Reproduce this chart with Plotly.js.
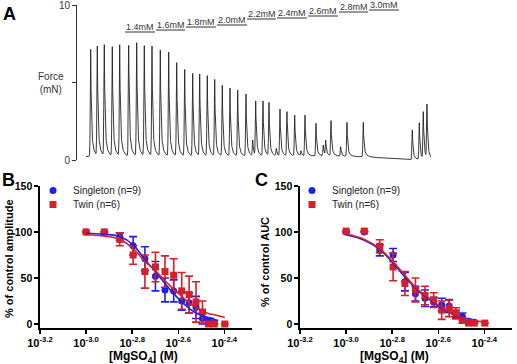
<!DOCTYPE html>
<html><head><meta charset="utf-8">
<script src="https://cdn.plot.ly/plotly-3.0.1.min.js"></script>
<style>html,body{margin:0;padding:0;background:#fff}#chart{width:517px;height:364px}</style>
</head><body><div id="chart"></div>
<script>
// ---------- Panel A: force trace (peaks) ----------
const peakTimes  = [13.7,20.3,27.3,35.3,42.7,51.7,59.7,67.3,75.0,83.3,91.7,99.7,107.7,115.7,122.7,130.3,137.7,145.3,153.0,160.7,169.0,175.7,178.7,186.0,192.0,199.3,203.0,210.0,217.7,224.0,228.0,239.0,246.3,248.7,254.0,263.7,270.0,286.3,335.3,342.3,346.3,350.0];
const peakForces = [7.14,7.35,7.44,7.31,7.44,7.40,7.57,7.38,7.35,7.10,6.97,6.28,5.85,5.59,5.55,5.44,5.20,4.82,4.65,4.52,4.26,1.29,3.81,3.81,3.72,0.75,3.29,3.12,2.90,0.60,2.90,2.37,0.97,1.29,2.54,0.86,2.43,2.43,1.94,2.41,3.12,3.61];
const baseTimes  = [9,150,250,290,330,354];
const baseForces = [0.22,0.22,0.25,0.2,0.02,0.0];
const mgLabels = ['1.4mM','1.6mM','1.8mM','2.0mM','2.2mM','2.4mM','2.6mM','2.8mM','3.0mM'];
const mgStart  = [48,79,109,140,170,200,231,262,292];
const mgEnd    = [78,108,139,170,199,230,261,291,322];
const forceTicks = [0,5,10];
const forceTickText = ['0','','10'];

// ---------- Panels B and C ----------
const concMM = [1.0,1.2,1.4,1.6,1.8,2.0,2.2,2.4,2.6,2.8,3.0,3.2,3.4,3.6,4.0];
// B: % of control amplitude
const ampSingleton    = [100,100,95,85,71,52,37,36,25,23,18,6,3,2];
const ampSingletonErr = [0,0,4,10,13,16,13,12,10,11,12,6,3,2];
const ampTwin         = [100,100,92,75,57,62,57,53,36,32,24,13,0,0,0];
const ampTwinErr      = [0,0,7,10,18,16,17,18,20,20,22,12,0,0,0];
const ampFitSingleton = [98.6,97.5,95,86,70,57,44,33,24,17,12,9,7,6];
const ampFitTwin      = [97,95.5,92,82,68,58,47,38,30,23,18,14,11.5,10,7];
// C: % of control AUC
const aucSingleton    = [100,100,80,75,46,33,28,24,21,19.5,11,8,3,2];
const aucSingletonErr = [0,0,6,7,10,8,9,5,7,7,4,4,2,1];
const aucTwin         = [101,101,84.5,62,44,37,31,26,15,17,11.6,4,1,1,1];
const aucTwinErr      = [0,0,7,15,13,13,10,8,10,9,6,3,0,0,0];
const aucFitSingleton = [97,91,81,66,51,39,30,23,17,12.5,8.5,6,4.5,3.5];
const aucFitTwin      = [98,92,82,67.5,53,40,31,24,18,13,9,6,4.5,3.5,2.5];

const tickExp = ['-3.2','-3.0','-2.8','-2.6','-2.4'];

// ---------- build ----------
const W = 517, H = 364;
const BLUE = '#1f1fe6', RED = '#d4202a';
function interp(t, xs, ys){
  if (t <= xs[0]) return ys[0];
  for (let i=1;i<xs.length;i++){ if (t <= xs[i]) { const f=(t-xs[i-1])/(xs[i]-xs[i-1]); return ys[i-1]+f*(ys[i]-ys[i-1]); } }
  return ys[ys.length-1];
}
function kernel(dt){
  if (dt < -2.0) return 0;
  if (dt < 0) return Math.exp(-(dt*dt)/(2*0.4*0.4));
  return 0.78*Math.exp(-dt/0.65) + 0.22*Math.exp(-dt/2.4);
}
const amps = [];
for (let i=0;i<peakTimes.length;i++){
  let lvl = interp(peakTimes[i], baseTimes, baseForces);
  for (let j=0;j<i;j++) lvl += amps[j]*kernel(peakTimes[i]-peakTimes[j]);
  amps.push(Math.max(0, peakForces[i]-lvl));
}
const tx = [], fy = [];
for (let t=9; t<=354.001; t+=0.1){
  let v = interp(t, baseTimes, baseForces);
  for (let j=0;j<peakTimes.length;j++){ const d=t-peakTimes[j]; if (d>-2.0 && d<40) v += amps[j]*kernel(d); }
  tx.push(t); fy.push(v);
}

const M = v => v/1000;
const concM = concMM.map(M);
function pts(vals, errs, color, symbol, xa, ya, name, legend){
  return {type:'scatter', mode:'markers', x:concM.slice(0, vals.length), y:vals, xaxis:xa, yaxis:ya,
    name:name, legend:legend,
    marker:{color:color, symbol:symbol, size:7},
    error_y:{type:'data', array:errs, visible:true, color:color, thickness:1.6, width:4}};
}
function fit(vals, color, xa, ya){
  return {type:'scatter', mode:'lines', x:concM.slice(0, vals.length), y:vals, xaxis:xa, yaxis:ya,
    showlegend:false, hoverinfo:'skip', line:{color:color, width:1.6, shape:'spline', smoothing:1}};
}

const traces = [
  {type:'scatter', mode:'lines', x:tx, y:fy, xaxis:'x', yaxis:'y', showlegend:false, line:{color:'#222', width:0.9}},
  pts(ampSingleton, ampSingletonErr, BLUE, 'circle', 'x2','y2','Singleton (n=9)','legend'),
  pts(ampTwin, ampTwinErr, RED, 'square', 'x2','y2','Twin (n=6)','legend2'),
  fit(ampFitSingleton, BLUE, 'x2','y2'),
  fit(ampFitTwin, RED, 'x2','y2'),
  pts(aucSingleton, aucSingletonErr, BLUE, 'circle', 'x3','y3','Singleton (n=9)','legend3'),
  pts(aucTwin, aucTwinErr, RED, 'square', 'x3','y3','Twin (n=6)','legend4'),
  fit(aucFitSingleton, BLUE, 'x3','y3'),
  fit(aucFitTwin, RED, 'x3','y3'),
];

const FONT = 'Liberation Sans, Arial, sans-serif';
const tickvals = tickExp.map(e => Math.pow(10, parseFloat(e)));
const ticktext = tickExp.map(e => '10<sup>' + e + '</sup>');
function xAx(l, r, anchor){
  return {domain:[l/W, r/W], anchor:anchor, type:'log', range:[-3.2,-2.28], showline:true, linecolor:'#000', linewidth:1.6,
    ticks:'outside', ticklen:4, tickwidth:1.5, tickcolor:'#000', tickvals:tickvals, ticktext:ticktext,
    tickfont:{family:FONT, size:11, color:'#000', weight:'bold'}, showgrid:false, zeroline:false, fixedrange:true};
}
function yAx(anchor){
  return {domain:[1-328/H, 1-186/H], anchor:anchor, range:[-4.35,150], showline:true, linecolor:'#000', linewidth:1.6,
    ticks:'outside', ticklen:4, tickwidth:1.5, tickcolor:'#000', tickvals:[0,50,100,150], ticklabeloverflow:'allow',
    tickfont:{family:FONT, size:10.5, color:'#000', weight:'bold'}, showgrid:false, zeroline:false, fixedrange:true};
}
function leg(xpx, ypx){
  return {x:xpx/W, y:1-ypx/H, xanchor:'left', yanchor:'top', bgcolor:'rgba(0,0,0,0)', borderwidth:0,
    font:{family:FONT, size:10, color:'#222'}, itemwidth:30};
}
function ann(text, xpx, ypx, size, extra){
  return Object.assign({text:text, x:xpx/W, y:1-ypx/H, xref:'paper', yref:'paper', xanchor:'center', yanchor:'middle',
    showarrow:false, font:{family:FONT, size:size, color:'#000'}}, extra||{});
}

const annotations = [
  ann('<b>A</b>', 9, 14, 18),
  ann('<b>B</b>', 8, 180, 18),
  ann('<b>C</b>', 261, 180, 18),
  ann('Force<br>(mN)', 51, 83, 10, {font:{family:FONT, size:10, color:'#333'}}),
  ann('<b>[MgSO<sub>4</sub>] (M)</b>', 143, 357, 12),
  ann('<b>[MgSO<sub>4</sub>] (M)</b>', 394, 357, 12),
  ann('<b>% of control amplitude</b>', 9, 259, 11, {textangle:-90}),
  ann('<b>% of control AUC</b>', 265, 262, 11, {textangle:-90}),
];
const mgLevelsPx = [32,30,27,25,19,18,16,12,10];
const shapes = [];
mgLabels.forEach((lab, i) => {
  const lvl = (160 - mgLevelsPx[i]) / 15.5;
  shapes.push({type:'line', xref:'x', yref:'y', x0:mgStart[i], x1:mgEnd[i], y0:lvl, y1:lvl, line:{color:'#333', width:1}});
  annotations.push({text:lab, xref:'x', yref:'y', x:(mgStart[i]+mgEnd[i])/2, y:lvl, xanchor:'center', yanchor:'bottom', showarrow:false,
    font:{family:FONT, size:9, color:'#333'}, borderpad:0, yshift:-1});
});

const layout = {
  width:W, height:H, autosize:false, margin:{l:0,r:0,t:0,b:0}, paper_bgcolor:'#fff', plot_bgcolor:'rgba(0,0,0,0)',
  showlegend:true,
  xaxis:{domain:[77/W, 432/W], range:[0,355], anchor:'y', showline:false, showticklabels:false, ticks:'', showgrid:false, zeroline:false, fixedrange:true},
  yaxis:{domain:[1-160/H, 1-5/H], range:[0,10], anchor:'x', side:'left', showline:true, linecolor:'#333', linewidth:1,
    ticks:'outside', ticklen:4, tickcolor:'#333', tickmode:'array', tickvals:forceTicks, ticktext:forceTickText, showticklabels:true,
    ticklabeloverflow:'allow',
    tickfont:{family:FONT, size:10, color:'#333'}, showgrid:false, zeroline:false, fixedrange:true},
  xaxis2:xAx(40, 252, 'y2'), yaxis2:yAx('x2'),
  xaxis3:xAx(300, 512, 'y3'), yaxis3:yAx('x3'),
  legend:leg(33, 176), legend2:leg(33, 190),
  legend3:leg(292, 176), legend4:leg(292, 190),
  annotations:annotations, shapes:shapes,
};
Plotly.newPlot('chart', traces, layout, {staticPlot:true, displayModeBar:false});
</script></body></html>
